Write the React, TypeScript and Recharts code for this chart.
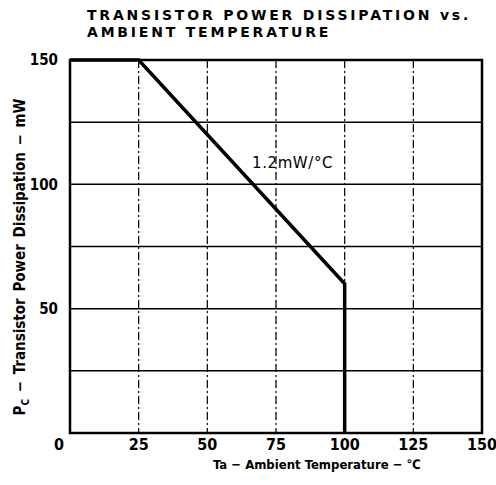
import React from 'react';
import {
  LineChart,
  Line,
  XAxis,
  YAxis,
  CartesianGrid,
  ReferenceArea,
} from 'recharts';

// derating curve points
const temps = [0, 25, 100, 100];
const power = [150, 150, 60, 0];
const xTicks = [0, 25, 50, 75, 100, 125, 150];
const yTicks = [0, 25, 50, 75, 100, 125, 150];
// the shared "0" in the corner belongs to the x axis
const yTickLabels = ['', '', '50', '', '100', '', '150'];
const titleLines = ['TRANSISTOR POWER DISSIPATION vs.', 'AMBIENT TEMPERATURE'];

const data = temps.map((t, i) => ({ t, pc: power[i] }));

const tickFont = {
  fill: '#000',
  fontSize: 15,
  fontWeight: 700,
  fontFamily: '"Liberation Sans Narrow", "DejaVu Sans Condensed", sans-serif',
};

// the "0" on the x axis sits a little left of the corner in the original
const XTick = (props: any) => {
  const { x, y, payload } = props;
  const shift = payload.value === 0 ? -11 : 0;
  return (
    <text x={x + shift} y={y} dy={11} textAnchor="middle" {...tickFont} fontSize={16}>
      {payload.value}
    </text>
  );
};

export default function App() {
  return (
    <div style={{ position: 'absolute', left: 0, top: 0, width: 496, height: 485, background: '#fff' }}>
      {titleLines.map((line, i) => (
        <div
          key={line}
          style={{
            position: 'absolute',
            left: 87,
            top: 7 + i * 17,
            fontFamily: '"DejaVu Sans", sans-serif',
            fontWeight: 700,
            fontSize: 14,
            letterSpacing: 2.8,
            lineHeight: '16px',
            color: '#000',
            whiteSpace: 'nowrap',
          }}
        >
          {line}
        </div>
      ))}

      <LineChart
        width={496}
        height={485}
        data={data}
        margin={{ top: 60, right: 14, bottom: 22, left: 30 }}
      >
        <CartesianGrid horizontal vertical={false} stroke="#000" strokeWidth={1.5} />
        <CartesianGrid horizontal={false} vertical stroke="#000" strokeWidth={1.2} strokeDasharray="8 3 2 3" />
        <XAxis
          type="number"
          dataKey="t"
          domain={[0, 150]}
          ticks={xTicks}
          tickLine={false}
          axisLine={false}
          height={30}
          tick={<XTick />}
          tickMargin={0}
        />
        <YAxis
          type="number"
          domain={[0, 150]}
          ticks={yTicks}
          tickFormatter={(v: number) => yTickLabels[yTicks.indexOf(v)]}
          tickLine={false}
          axisLine={false}
          width={40}
          tick={tickFont}
          tickMargin={6}
        />
        <ReferenceArea x1={0} x2={150} y1={0} y2={150} fill="none" stroke="#000" strokeWidth={2.5} />
        <Line
          type="linear"
          dataKey="pc"
          stroke="#000"
          strokeWidth={3.5}
          dot={false}
          isAnimationActive={false}
        />
      </LineChart>

      <div
        style={{
          position: 'absolute',
          left: 252,
          top: 154,
          fontFamily: '"DejaVu Sans", sans-serif',
          fontSize: 15,
          letterSpacing: 0.6,
          color: '#000',
        }}
      >
        1.2mW/°C
      </div>

      <div
        style={{
          position: 'absolute',
          left: 213,
          top: 457,
          fontFamily: '"DejaVu Sans Condensed", sans-serif',
          fontWeight: 700,
          fontSize: 13,
          color: '#000',
          whiteSpace: 'nowrap',
        }}
      >
        Ta − Ambient Temperature − ℃
      </div>

      <div
        style={{
          position: 'absolute',
          left: 21,
          top: 257,
          transform: 'translate(-50%, -50%) rotate(-90deg)',
          fontFamily: '"DejaVu Sans Condensed", sans-serif',
          fontWeight: 700,
          fontSize: 15,
          wordSpacing: 2,
          color: '#000',
          whiteSpace: 'nowrap',
        }}
      >
        P<sub style={{ fontSize: 10 }}>C</sub> − Transistor Power Dissipation − mW
      </div>
    </div>
  );
}
